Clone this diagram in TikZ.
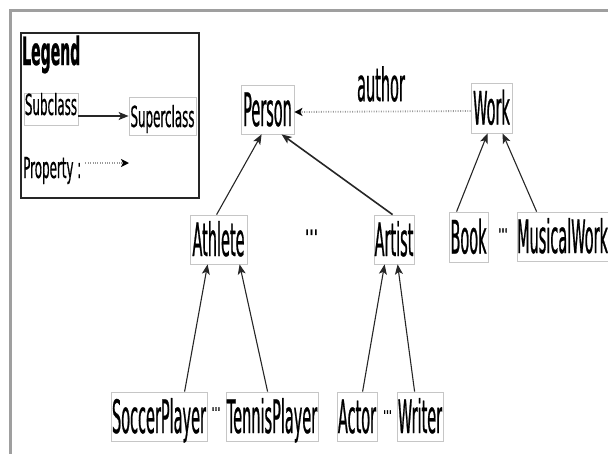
\documentclass[tikz,border=0pt]{standalone}
\usepackage{fontspec}
\setmainfont{DejaVu Sans}
\newfontfamily\mainf[FakeStretch=0.315,FakeBold=0.5]{DejaVu Sans}
\newfontfamily\legf[FakeStretch=0.41,FakeBold=0.4]{DejaVu Sans}
\newfontfamily\legb[FakeStretch=0.36,FakeBold=0.6]{DejaVu Sans}
\usetikzlibrary{arrows.meta}
\tikzset{
  cls/.style={draw=gray!45, line width=0.8pt, fill=white, inner sep=0pt,
    minimum height=49pt, font=\mainf\fontsize{46}{46}\selectfont,
    text height=33pt, text depth=0pt},
  lcls/.style={draw=gray!45, line width=0.8pt, fill=white, inner sep=0pt,
    font=\legf\fontsize{29}{29}\selectfont, text depth=0pt},
  subarrow/.style={draw=black!85, line width=1.1pt,
    -{Stealth[length=10pt,width=8pt,inset=2.5pt]}},
  propline/.style={draw=gray!80, line width=1.8pt, dash pattern=on 0.9pt off 1.5pt,
    -{Stealth[length=8pt,width=8pt,inset=2pt,black]}},
  dotsnode/.style={inner sep=0pt, font=\mainf\fontsize{44}{44}\selectfont}
}
\begin{document}
\begin{tikzpicture}[x=1pt,y=-1pt]
\useasboundingbox (0,0) rectangle (608,453);
% outer frame
\draw[gray!75, line width=3pt] (10,460) -- (10,10) -- (615,10);
% legend
\draw[black!85, line width=1.2pt] (21,33) rectangle (199,198);
\node[anchor=base west, inner sep=0pt, font=\legb\bfseries\fontsize{39}{39}\selectfont] (legtitle) at (22,65) {Legend};
\node[lcls, minimum width=54pt, minimum height=32pt, text height=12pt] (Subclass) at (51,109) {Subclass};
\node[lcls, minimum width=67pt, minimum height=38pt, text height=22pt] (Superclass) at (162.5,116) {Superclass};
\draw[subarrow, line width=1.5pt] (Subclass.east |- Superclass.west) -- (Superclass.west);
\node[anchor=base west, inner sep=0pt, font=\legf\fontsize{29}{29}\selectfont] (prop) at (23,178) {Property :};
\coordinate (pb) at (129,163);
\path (prop.east |- pb) ++(4,0) coordinate (pa);
\draw[propline] (pa) -- (pb);
% classes
\node[cls, minimum width=53pt] (Person) at (267.5,109.5) {Person};
\node[cls, minimum width=41pt, minimum height=50pt] (Work) at (491.5,108) {Work};
\node[font=\mainf\fontsize{46}{46}\selectfont, inner sep=0pt] (author) at (381,84) {author};
\node[cls, minimum width=57pt] (Athlete) at (218.5,239.5) {Athlete};
\node[cls, minimum width=40pt] (Artist) at (394,239.5) {Artist};
\node[cls, minimum width=39pt, minimum height=50pt] (Book) at (468.5,237) {Book};
\node[cls, minimum width=91pt] (MusicalWork) at (562.5,236.5) {MusicalWork};
\node[cls, minimum width=96pt] (SoccerPlayer) at (159,416.5) {SoccerPlayer};
\node[cls, minimum width=92pt] (TennisPlayer) at (272,416.5) {TennisPlayer};
\node[cls, minimum width=40pt] (Actor) at (357,416.5) {Actor};
\node[cls, minimum width=46pt] (Writer) at (420,416.5) {Writer};
% ellipses
\node[dotsnode] (d1) at (311.5,238.5) {···};
\node[dotsnode, font=\mainf\fontsize{32}{32}\selectfont] (d2) at (503,235) {···};
\node[dotsnode, font=\mainf\fontsize{28}{28}\selectfont] (d3) at (216,413) {···};
\node[dotsnode, font=\mainf\fontsize{28}{28}\selectfont] (d4) at (387.5,416) {···};
% property
\draw[propline] ([yshift=-3pt]Work.west) -- ([yshift=-2.5pt]Person.east);
% subclass edges
\draw[subarrow] ([xshift=27pt]Athlete.north west) -- ([xshift=21pt]Person.south west);
\draw[subarrow, line width=1.6pt] ([xshift=19pt]Artist.north west) -- ([xshift=41pt]Person.south west);
\draw[subarrow] ([xshift=8pt]Book.north west) -- ([xshift=17pt]Work.south west);
\draw[subarrow] ([xshift=20pt]MusicalWork.north west) -- ([xshift=32pt]Work.south west);
\draw[subarrow] ([xshift=74pt]SoccerPlayer.north west) -- ([xshift=18pt]Athlete.south west);
\draw[subarrow] ([xshift=42pt]TennisPlayer.north west) -- ([xshift=50pt]Athlete.south west);
\draw[subarrow] ([xshift=26pt]Actor.north west) -- ([xshift=11pt]Artist.south west);
\draw[subarrow] ([xshift=18pt]Writer.north west) -- ([xshift=24pt]Artist.south west);
\end{tikzpicture}
\end{document}
